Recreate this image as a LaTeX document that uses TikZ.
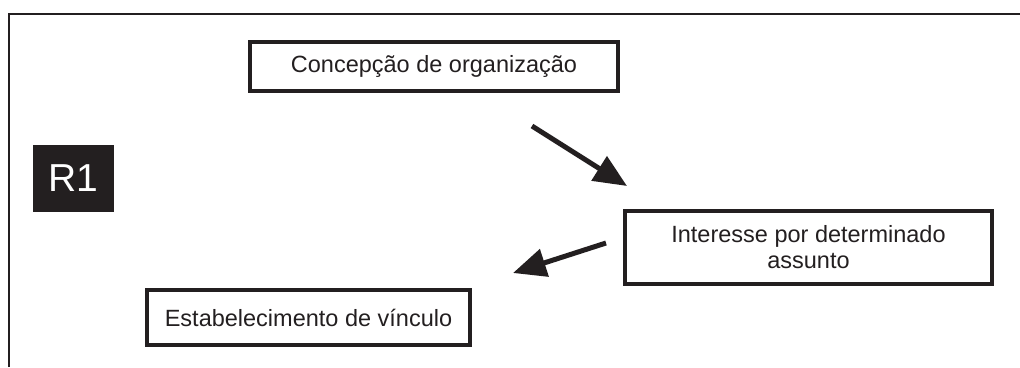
\documentclass[tikz,border=0pt]{standalone}
\usepackage{fontspec}
\setmainfont{Liberation Sans}
\usetikzlibrary{arrows.meta}
\definecolor{tinta}{HTML}{231F20}
\tikzset{
	caixa/.style={draw=tinta, line width=4.5pt, align=center, inner sep=0pt, font=\fontsize{23.5}{26}\selectfont, text=tinta},
	seta/.style={draw=tinta, line width=5pt, -{Triangle[length=33pt,width=28pt]}}
}
\begin{document}
\begin{tikzpicture}[x=1pt, y=-1pt]
		\useasboundingbox[fill=white] (0,0) rectangle (1020,367);
		\draw[tinta, line width=2pt] (9,367) -- (9,13.5) -- (1020,13.5);
		\node[fill=tinta, minimum width=81pt, minimum height=67pt, inner sep=0pt, text=white, font=\fontsize{39}{40}\selectfont] (r1) at (73.5,178.5) {R1};
		\node[caixa, minimum width=368pt, minimum height=49pt] (conc) at (434,66.5) {Concepção de organização};
		\node[caixa, minimum width=367pt, minimum height=73pt] (inter) at (808.5,247.5) {Interesse por determinado\\assunto};
		\node[caixa, minimum width=323pt, minimum height=55pt] (estab) at (308.5,317.5) {Estabelecimento de vínculo};
		\coordinate (s1) at (532,126);
		\coordinate (p1) at (627,186);
		\coordinate (s2) at (606,243);
		\coordinate (p2) at (513,273);
		\draw[seta] (s1) -- (p1);
		\draw[seta] (s2) -- (p2);
	\end{tikzpicture}
\end{document}
